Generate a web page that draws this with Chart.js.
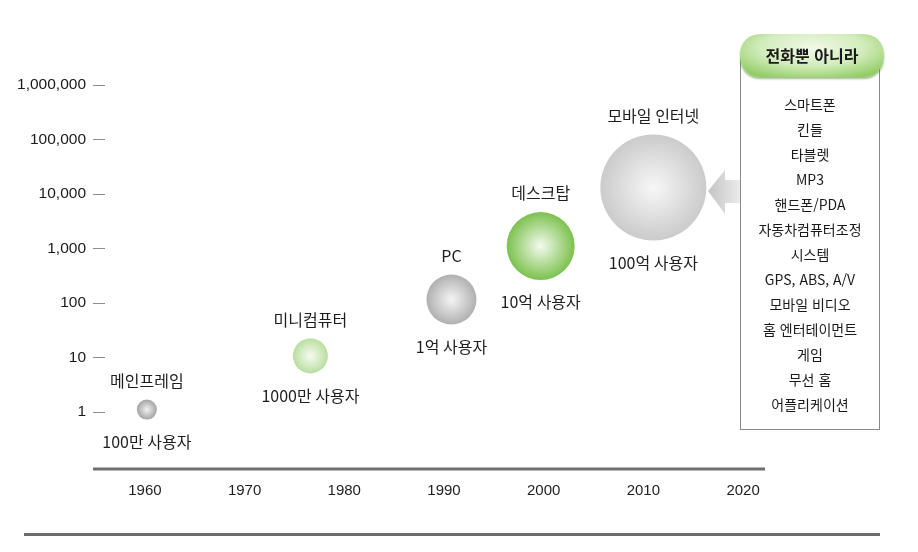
<!DOCTYPE html>
<html lang="ko">
<head>
<meta charset="utf-8">
<script src="https://cdn.jsdelivr.net/npm/chart.js@4.4.1/dist/chart.umd.min.js"></script>
<style>
  html, body { margin: 0; padding: 0; background: #fff; }
  #wrap { position: relative; width: 918px; height: 552px; overflow: hidden; }
  #chart { position: absolute; left: 0; top: 0; }
  .side-box {
    position: absolute; left: 740px; top: 58px; width: 138px; height: 371px;
    border: 1px solid #8a8a8a; border-top: none; background: #fff;
  }
  .side-head {
    position: absolute; left: 740px; top: 34px; width: 144px; height: 43px;
    border-radius: 20px;
    background: radial-gradient(ellipse 72% 85% at 50% 32%, #f1f9e8 0%, #d2ecbb 50%, #84c652 100%);
    box-shadow: 0 2px 2px rgba(70, 130, 30, 0.5);
    font: bold 16px "Noto Sans CJK KR", sans-serif; color: #1a1a1a;
    text-align: center; line-height: 43px;
  }
  .side-list {
    position: absolute; left: 740px; top: 92px; width: 140px;
    text-align: center; font: 14px "Noto Sans CJK KR", sans-serif; color: #1a1a1a;
  }
  .side-list div { height: 25px; line-height: 25px; }
  .bottom-rule { position: absolute; left: 24px; top: 533px; width: 856px; height: 3px; background: #6c6c6c; }
  svg.arrow { position: absolute; left: 700px; top: 160px; }
</style>
</head>
<body>
<div id="wrap">
  <canvas id="chart" width="918" height="552"></canvas>
  <svg class="arrow" width="50" height="64">
    <defs>
      <linearGradient id="ag" x1="0" x2="1" y1="0" y2="0">
        <stop offset="0" stop-color="#c4c4c4"/>
        <stop offset="1" stop-color="#ececec"/>
      </linearGradient>
    </defs>
    <polygon points="8,31 25,10 25,20 41,20 41,43 25,43 25,54" fill="url(#ag)"/>
  </svg>
  <div class="side-box"></div>
  <div class="side-head" id="sideHead"></div>
  <div class="side-list" id="sideList"></div>
  <div class="bottom-rule"></div>
</div>
<script>
// data
const eras = ["메인프레임", "미니컴퓨터", "PC", "데스크탑", "모바일 인터넷"];
const users = ["100만 사용자", "1000만 사용자", "1억 사용자", "10억 사용자", "100억 사용자"];
const years = [1960.2, 1976.6, 1990.75, 1999.7, 2011.0];
const values = [1.11, 10.7, 116, 1110, 13150];
const sizes = [10, 17.5, 25, 34, 53];
const yTicks = [1, 10, 100, 1000, 10000, 100000, 1000000];
const xTicks = [1960, 1970, 1980, 1990, 2000, 2010, 2020];

const sideTitle = "전화뿐 아니라";
const sideItems = [
  "스마트폰", "킨들", "타블렛", "MP3", "핸드폰/PDA", "자동차컴퓨터조정", "시스템",
  "GPS, ABS, A/V", "모바일 비디오", "홈 엔터테이먼트", "게임", "무선 홈", "어플리케이션",
];

// center / edge colours of each bubble
const bubbleColors = [
  ["#f2f2f2", "#a3a3a3"],
  ["#f7fbf2", "#b9dea0"],
  ["#f5f5f5", "#b0b0b0"],
  ["#f4faee", "#7cc14e"],
  ["#f7f7f7", "#cbcbcb"],
];

document.getElementById("sideHead").textContent = sideTitle;
const list = document.getElementById("sideList");
for (const item of sideItems) {
  const row = document.createElement("div");
  row.textContent = item;
  list.appendChild(row);
}

function bubbleFill(context) {
  const chart = context.chart;
  const i = context.dataIndex;
  if (i === undefined || !chart.scales.x || !chart.scales.y) return "#bbb";
  const cx = chart.scales.x.getPixelForValue(years[i]);
  const cy = chart.scales.y.getPixelForValue(values[i]);
  if (!isFinite(cx) || !isFinite(cy)) return bubbleColors[i][1];
  const r = sizes[i];
  const g = chart.ctx.createRadialGradient(cx, cy, 0, cx, cy, r);
  g.addColorStop(0, bubbleColors[i][0]);
  g.addColorStop(1, bubbleColors[i][1]);
  return g;
}

const labelPlugin = {
  id: "bubbleLabels",
  afterDatasetsDraw(chart) {
    const ctx = chart.ctx;
    const meta = chart.getDatasetMeta(0);
    ctx.save();
    ctx.font = '16px "Noto Sans CJK KR", sans-serif';
    ctx.fillStyle = "#1e1e1e";
    ctx.textAlign = "center";
    ctx.textBaseline = "middle";
    meta.data.forEach((pt, i) => {
      const r = pt.options.radius;
      ctx.fillText(eras[i], pt.x, pt.y - r - 19);
      ctx.fillText(users[i], pt.x, pt.y + r + 22);
    });
    ctx.restore();
  },
  beforeDatasetsDraw(chart) {
    // x axis rule, starts a bit left of the plot area
    const { ctx, chartArea } = chart;
    ctx.save();
    ctx.strokeStyle = "#707070";
    ctx.lineWidth = 3;
    ctx.beginPath();
    ctx.moveTo(93, chartArea.bottom + 1);
    ctx.lineTo(chartArea.right, chartArea.bottom + 1);
    ctx.stroke();
    ctx.restore();
  },
};

new Chart(document.getElementById("chart"), {
  type: "bubble",
  data: {
    datasets: [{
      data: years.map((x, i) => ({ x, y: values[i], r: sizes[i] })),
      backgroundColor: bubbleFill,
      borderWidth: 0,
      hoverRadius: 0,
      clip: false,
    }],
  },
  options: {
    responsive: false,
    animation: false,
    events: [],
    layout: { padding: { top: 85, right: 153, bottom: 0, left: 0 } },
    plugins: { legend: { display: false }, tooltip: { enabled: false } },
    scales: {
      x: {
        type: "linear",
        min: 1956,
        max: 2022.2,
        afterBuildTicks: (scale) => { scale.ticks = xTicks.map((v) => ({ value: v })); },
        afterFit: (scale) => { scale.height = 84; },
        grid: { display: false },
        border: { display: false },
        ticks: {
          padding: 6,
          color: "#1e1e1e",
          font: { family: '"Liberation Sans", Arial, sans-serif', size: 15 },
          callback: (v) => String(v),
        },
      },
      y: {
        type: "logarithmic",
        min: 0.094,
        max: 1000000,
        afterBuildTicks: (scale) => { scale.ticks = yTicks.map((v) => ({ value: v })); },
        afterFit: (scale) => { scale.width = 105; },
        grid: { drawOnChartArea: false, tickLength: 12, color: "#8c8c8c", lineWidth: 1 },
        border: { display: false },
        ticks: {
          padding: 7,
          color: "#1a1a1a",
          font: { family: '"Liberation Sans", Arial, sans-serif', size: 15.5 },
          callback: (v) => Number(v).toLocaleString("en-US"),
        },
      },
    },
  },
  plugins: [labelPlugin],
});
</script>
</body>
</html>
